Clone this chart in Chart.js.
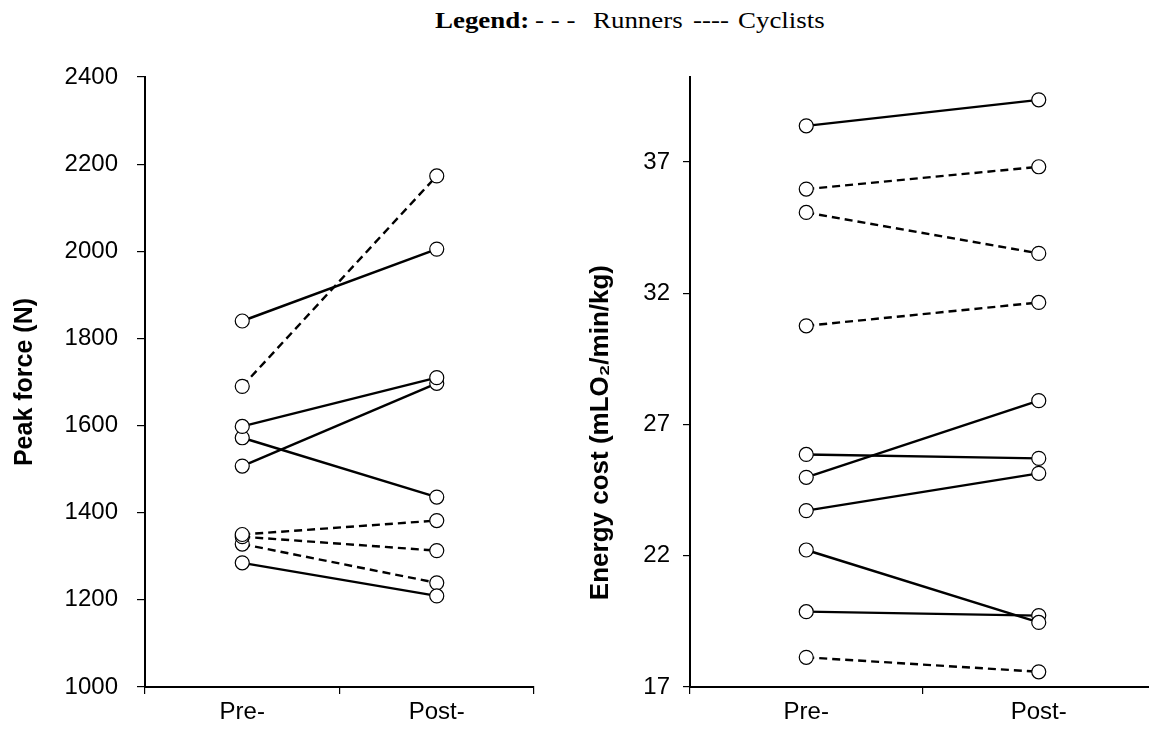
<!DOCTYPE html>
<html>
<head>
<meta charset="utf-8">
<script src="https://cdn.jsdelivr.net/npm/chart.js@4/dist/chart.umd.min.js"></script>
<style>
  html, body { margin: 0; padding: 0; background: #fff; }
  body { width: 1149px; height: 732px; overflow: hidden; position: relative; }
  .lg { position: absolute; top: 9px; font-family: "Liberation Serif", "Times New Roman", serif; font-size: 23px;
        line-height: 23px; white-space: pre; color: #000; transform: scaleX(1.17); transform-origin: 0 0; }
  #wrap1 { position: absolute; left: 0; top: 0; width: 545px; height: 732px; }
  #wrap2 { position: absolute; left: 560px; top: 0; width: 606px; height: 732px; }
</style>
</head>
<body>
<span class="lg" style="left:435px"><b>Legend:</b></span>
<span class="lg" style="left:535px">- - -</span>
<span class="lg" style="left:593px">Runners</span>
<span class="lg" style="left:693px">----</span>
<span class="lg" style="left:738px">Cyclists</span>
<div id="wrap1"><canvas id="c1" width="545" height="732"></canvas></div>
<div id="wrap2"><canvas id="c2" width="606" height="732"></canvas></div>
<script>
// ---- data ----
const categories = ['Pre-', 'Post-'];

// Peak force (N)
const forceRunnersPre   = [1690, 1350, 1345, 1328];
const forceRunnersPost  = [2173, 1382, 1313, 1239];
const forceCyclistsPre  = [1840, 1598, 1572, 1507, 1285];
const forceCyclistsPost = [2005, 1710, 1436, 1697, 1209];
const forceTicks = [1000, 1200, 1400, 1600, 1800, 2000, 2200, 2400];

// Energy cost (mLO2/min/kg)
const energyRunnersPre   = [35.97, 35.08, 30.76, 18.13];
const energyRunnersPost  = [36.82, 33.52, 31.65, 17.58];
const energyCyclistsPre  = [38.38, 25.86, 24.99, 23.72, 22.22, 19.87];
const energyCyclistsPost = [39.37, 25.71, 27.91, 25.14, 19.46, 19.72];
const energyTicks = [17, 22, 27, 32, 37];

// ---- builders ----
function buildDatasets(runPre, runPost, cycPre, cycPost) {
  const ds = [];
  const add = (pre, post, dashed) => {
    pre.forEach((v, i) => {
      ds.push({
        data: [v, post[i]],
        borderColor: '#000',
        borderWidth: 2.4,
        borderDash: dashed ? [8, 5] : [],
        pointRadius: 0,
        fill: false,
        tension: 0,
        order: 1
      });
      ds.push({
        data: [v, post[i]],
        showLine: false,
        pointRadius: 7,
        pointBorderWidth: 1.2,
        pointBorderColor: '#000',
        pointBackgroundColor: '#fff',
        order: 0
      });
    });
  };
  add(cycPre, cycPost, false);
  add(runPre, runPost, true);
  return ds;
}

const FONT = 'Liberation Sans, Arial, sans-serif';

function makeChart(id, datasets, yMin, yMax, ticks, title, opts) {
  return new Chart(document.getElementById(id), {
    type: 'line',
    data: { labels: categories, datasets },
    options: {
      responsive: false,
      animation: false,
      events: [],
      layout: { padding: { top: 77, right: opts.padRight, left: 0, bottom: 0 } },
      plugins: { legend: { display: false }, tooltip: { enabled: false }, title: { display: false } },
      scales: {
        x: {
          type: 'category',
          offset: true,
          grid: { display: true, offset: true, drawOnChartArea: false, drawTicks: true, tickLength: 7, color: '#000', lineWidth: 1.2 },
          border: { display: true, color: '#000', width: 2 },
          ticks: { color: '#000', padding: 4, font: { family: FONT, size: 24 }, maxRotation: 0 },
          afterFit: s => { s.height = 732 - 687; }
        },
        y: {
          type: 'linear',
          min: yMin,
          max: yMax,
          afterBuildTicks: s => { s.ticks = ticks.map(v => ({ value: v })); },
          grid: { display: true, drawOnChartArea: false, drawTicks: true, tickLength: opts.tickLen, color: '#000', lineWidth: 1.2 },
          border: { display: true, color: '#000', width: 2 },
          ticks: { color: '#000', padding: opts.tickPad, font: { family: FONT, size: 24 }, callback: v => String(v) },
          title: { display: true, text: title, color: '#000', padding: { top: opts.titlePad, bottom: 0 },
                   font: { family: FONT, size: opts.titleSize, weight: 'bold' } },
          afterFit: s => { s.width = opts.axisWidth; }
        }
      }
    }
  });
}

makeChart('c1', buildDatasets(forceRunnersPre, forceRunnersPost, forceCyclistsPre, forceCyclistsPost),
  1000, 2400, forceTicks, 'Peak force (N)',
  { padRight: 11, axisWidth: 145, tickLen: 8, tickPad: 19, titlePad: 10, titleSize: 25 });

makeChart('c2', buildDatasets(energyRunnersPre, energyRunnersPost, energyCyclistsPre, energyCyclistsPost),
  17, 40.24, energyTicks, 'Energy cost (mLO\u2082/min/kg)' + '\u0020'.repeat(14),
  { padRight: 11, axisWidth: 130, tickLen: 7, tickPad: 13, titlePad: 25, titleSize: 26 });
</script>
</body>
</html>
